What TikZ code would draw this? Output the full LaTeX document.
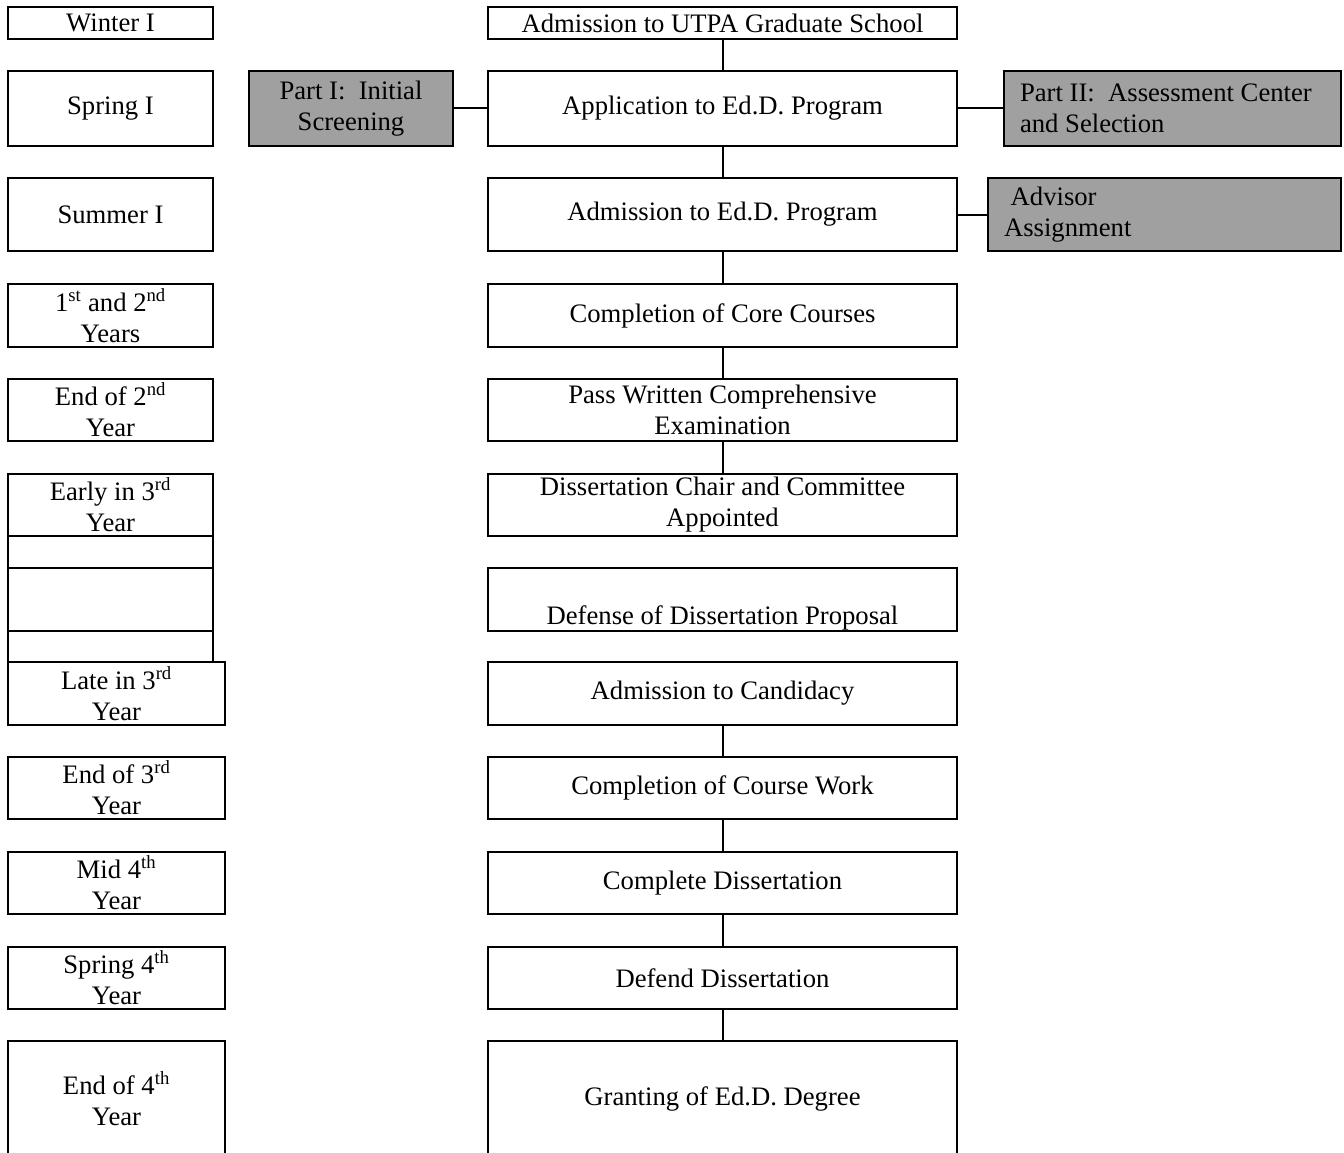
\documentclass[tikz,border=0pt]{standalone}
\usepackage{fontspec}
\setmainfont{Liberation Serif}
\usepackage{tikz}
\definecolor{shadegray}{HTML}{A0A0A0}

\begin{document}
\begin{tikzpicture}[x=0.75pt, y=-0.75pt,
  font=\fontsize{20}{23.25}\selectfont,
  box/.style 2 args={draw, line width=1.5pt, minimum width=#1*0.75pt, minimum height=#2*0.75pt, inner sep=1pt, align=center},
  part/.style={fill=shadegray},
  link/.style={line width=1.5pt}]
% Fix the page to the size of the reference
\useasboundingbox (0,0) rectangle (1344,1152);
\clip (0,0) rectangle (1344,1152);
% Time column on the left
\node[box={205}{32}] (winter) at (110.5,23) {Winter I};
\node[box={205}{75}] (springone) at (110.5,108.5) {Spring I};
\node[box={205}{73}] (summerone) at (110.5,214.5) {Summer I};
\node[box={205}{63}] (firstyears) at (110.5,315.5) {1\textsuperscript{st} and 2\textsuperscript{nd}\\Years};
\node[box={205}{62}] (endtwo) at (110.5,410) {End of 2\textsuperscript{nd}\\Year};
\node[box={205}{62}] (earlythree) at (110.5,505) {Early in 3\textsuperscript{rd}\\Year};
% Three empty cells under "Early in 3rd Year"
\node[box={205}{32}] (blankone) at (110.5,552) {};
\node[box={205}{63}] (blanktwo) at (110.5,599.5) {};
\node[box={205}{31}] (blankthree) at (110.5,646.5) {};
% The lower time cells are a little wider
\node[box={217}{63}] (latethree) at (116.5,693.5) {Late in 3\textsuperscript{rd}\\Year};
\node[box={217}{62}] (endthree) at (116.5,788) {End of 3\textsuperscript{rd}\\Year};
\node[box={217}{62}] (midfour) at (116.5,883) {Mid 4\textsuperscript{th}\\Year};
\node[box={217}{62}] (springfour) at (116.5,978) {Spring 4\textsuperscript{th}\\Year};
\node[box={217}{116}] (endfour) at (116.5,1099) {End of 4\textsuperscript{th}\\Year};
% Steps in the middle column
\node[box={469}{32}] (utpa) at (722.5,23) {Admission to UTPA Graduate School};
\node[box={469}{75}] (apply) at (722.5,108.5) {Application to Ed.D. Program};
\node[box={469}{73}] (admit) at (722.5,214.5) {Admission to Ed.D. Program};
\node[box={469}{63}] (core) at (722.5,315.5) {Completion of Core Courses};
\node[box={469}{62}] (exam) at (722.5,410) {Pass Written Comprehensive\\Examination};
\node[box={469}{62}] (chair) at (722.5,505) {Dissertation Chair and Committee\\Appointed};
\node[box={469}{63}] (defense) at (722.5,599.5) {\raisebox{-13.5pt}[\height][\depth]{Defense of Dissertation Proposal}};
\node[box={469}{63}] (candidacy) at (722.5,693.5) {Admission to Candidacy};
\node[box={469}{62}] (coursework) at (722.5,788) {Completion of Course Work};
\node[box={469}{62}] (complete) at (722.5,883) {Complete Dissertation};
\node[box={469}{62}] (defend) at (722.5,978) {Defend Dissertation};
\node[box={469}{116}] (degree) at (722.5,1099) {Granting of Ed.D. Degree};
% Shaded side boxes
\node[box={204}{75}, part] (partone) at (351,108.5) {Part I:\ \ Initial\\Screening};
\node[box={337}{75}, part, align=flush left, text width=228.75pt, inner xsep=12pt] (parttwo) at (1172.5,108.5) {Part II:\ \ Assessment Center\\and Selection};
\node[box={353}{73}, part, align=flush left, text width=240.75pt, inner xsep=12pt] (advisor) at (1164.5,214.5) {\hspace{0.25em}Advisor\\Assignment};
% Vertical links between the steps
\draw[link] (utpa) -- (apply);
\draw[link] (apply) -- (admit);
\draw[link] (admit) -- (core);
\draw[link] (core) -- (exam);
\draw[link] (exam) -- (chair);
\draw[link] (candidacy) -- (coursework);
\draw[link] (coursework) -- (complete);
\draw[link] (complete) -- (defend);
\draw[link] (defend) -- (degree);
% Side links to the shaded boxes
\draw[link] (partone.east) -- (apply.west);
\draw[link] (apply.east) -- (parttwo.west);
\draw[link] (admit.east) -- (advisor.west);
\end{tikzpicture}
\end{document}
